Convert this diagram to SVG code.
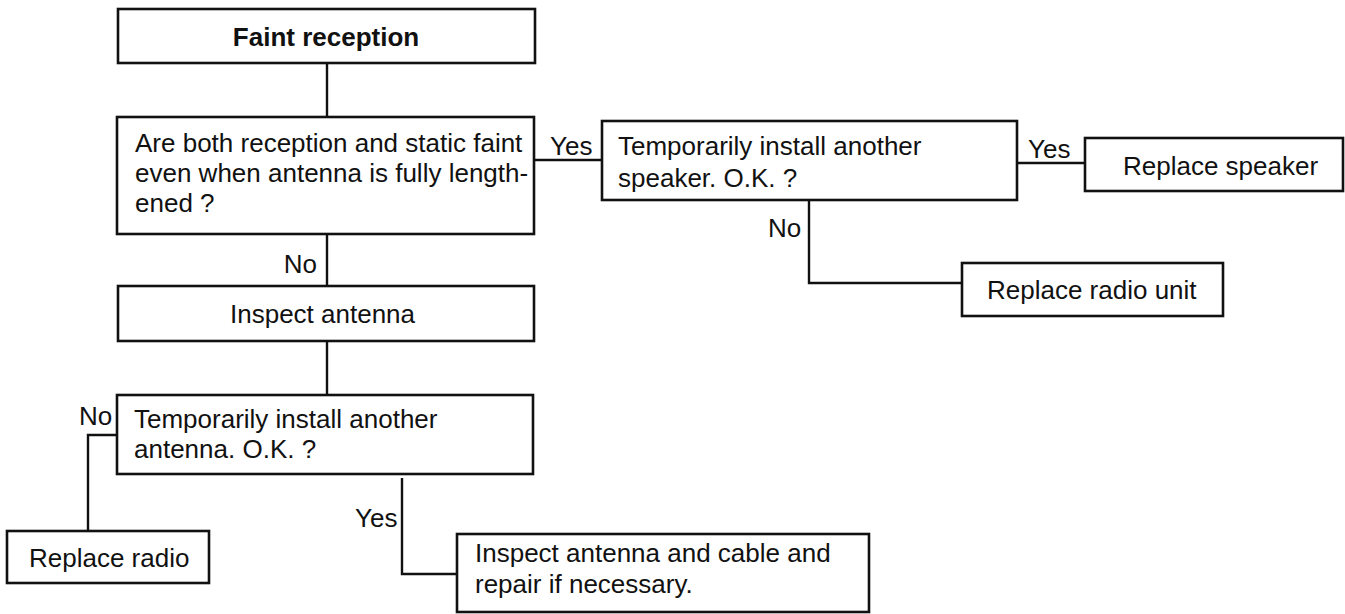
<svg xmlns="http://www.w3.org/2000/svg" width="1345" height="614" viewBox="0 0 1345 614">
<style>
.box{fill:#fff;stroke:#111;stroke-width:2.6}
.con{fill:none;stroke:#111;stroke-width:2.4}
text{font-family:"Liberation Sans",Arial,Helvetica,sans-serif;font-size:26px;fill:#111}
.b{font-weight:bold}
</style>
<rect width="1345" height="614" fill="#fff"/>
<g id="connectors">
<path class="con" d="M327 63V117"/>
<path class="con" d="M327 234V286"/>
<path class="con" d="M327 341V395"/>
<path class="con" d="M534 160H602"/>
<path class="con" d="M1017 163H1085"/>
<path class="con" d="M809 200V283H962"/>
<path class="con" d="M117 435H88V531"/>
<path class="con" d="M402 478V574H457"/>
<text x="550" y="155">Yes</text>
<text x="1028" y="158">Yes</text>
<text x="768" y="237">No</text>
<text x="317" y="273" text-anchor="end">No</text>
<text x="79" y="425">No</text>
<text x="355" y="527">Yes</text>
</g>
<g id="n1">
<rect class="box" x="118" y="9" width="417" height="54"/>
<text class="b" x="326" y="46" text-anchor="middle">Faint reception</text>
</g>
<g id="n2">
<rect class="box" x="117" y="117" width="417" height="117"/>
<text x="135" y="152">Are both reception and static faint</text>
<text x="135" y="182">even when antenna is fully length-</text>
<text x="135" y="212">ened ?</text>
</g>
<g id="n3">
<rect class="box" x="602" y="121" width="415" height="79"/>
<text x="618" y="155">Temporarily install another</text>
<text x="618" y="187">speaker. O.K. ?</text>
</g>
<g id="n4">
<rect class="box" x="1085" y="138" width="258" height="53"/>
<text x="1123" y="175">Replace speaker</text>
</g>
<g id="n5">
<rect class="box" x="962" y="263" width="261" height="53"/>
<text x="987" y="299">Replace radio unit</text>
</g>
<g id="n6">
<rect class="box" x="118" y="286" width="416" height="55"/>
<text x="230" y="323">Inspect antenna</text>
</g>
<g id="n7">
<rect class="box" x="117" y="395" width="416" height="79"/>
<text x="134" y="428">Temporarily install another</text>
<text x="134" y="458">antenna. O.K. ?</text>
</g>
<g id="n8">
<rect class="box" x="7" y="531" width="202" height="52"/>
<text x="29" y="567">Replace radio</text>
</g>
<g id="n9">
<rect class="box" x="457" y="534" width="412" height="78"/>
<text x="475" y="562">Inspect antenna and cable and</text>
<text x="475" y="593">repair if necessary.</text>
</g>
</svg>
